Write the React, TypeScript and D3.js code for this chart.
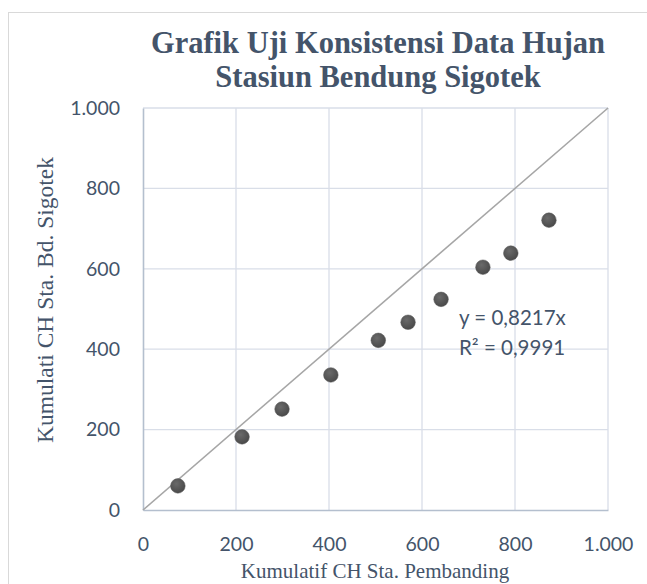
import { useEffect, useRef } from "react";
import * as d3 from "d3";

// ─── Data ────────────────────────────────────────────────────────────────────

const X_PEMBANDING = [75, 213, 299, 404, 506, 570, 641, 731, 791, 873];
const Y_SIGOTEK = [60, 182, 251, 336, 422, 467, 524, 604, 639, 721];
const TICKS = [0, 200, 400, 600, 800, 1000];
const TITLE = ["Grafik Uji Konsistensi Data Hujan", "Stasiun Bendung Sigotek"];
const EQUATION = ["y = 0,8217x", "R² = 0,9991"];

// ─── Palette ─────────────────────────────────────────────────────────────────

const SLATE = "#44546A";
const GRID = "#D9DEE8";
const AXIS = "#B4BFCE";
const DOT = "#595959";
const DIAG = "#A6A6A6";

const SANS = "Lato, 'Open Sans', sans-serif";
const SERIF = "'Times New Roman', 'Liberation Serif', 'DejaVu Serif', serif";

// Indonesian number style: 1.000
const fmt = d3.formatLocale({
  decimal: ",",
  thousands: ".",
  grouping: [3],
  currency: ["", ""],
}).format(",");

export default function App() {
  const svgRef = useRef<SVGSVGElement>(null);

  useEffect(() => {
    if (!svgRef.current) return;
    const W = 647,
      H = 584;
    const m = { left: 143, right: 39, top: 108, bottom: 74 };
    const iw = W - m.left - m.right;
    const ih = H - m.top - m.bottom;

    const svg = d3.select(svgRef.current);
    svg.selectAll("*").remove();

    svg.append("rect").attr("width", W).attr("height", H).attr("fill", "#fff");

    // chart frame
    svg
      .append("rect")
      .attr("x", 8.5)
      .attr("y", 12.5)
      .attr("width", W + 20)
      .attr("height", H + 20)
      .attr("fill", "none")
      .attr("stroke", "#D9D9D9");

    const x = d3.scaleLinear().domain([0, 1000]).range([0, iw]);
    const y = d3.scaleLinear().domain([0, 1000]).range([ih, 0]);

    const g = svg.append("g").attr("transform", `translate(${m.left},${m.top})`);

    // grid
    g.append("g")
      .selectAll("line")
      .data(TICKS.slice(1))
      .join("line")
      .attr("x1", (d) => x(d))
      .attr("x2", (d) => x(d))
      .attr("y1", 0)
      .attr("y2", ih)
      .attr("stroke", GRID)
      .attr("stroke-width", 1.3);
    g.append("g")
      .selectAll("line")
      .data(TICKS.slice(1))
      .join("line")
      .attr("x1", 0)
      .attr("x2", iw)
      .attr("y1", (d) => y(d))
      .attr("y2", (d) => y(d))
      .attr("stroke", GRID)
      .attr("stroke-width", 1.3);

    // axes
    g.append("g")
      .attr("transform", `translate(0,${ih})`)
      .call(d3.axisBottom(x).tickValues(TICKS).tickSize(0).tickFormat((d) => fmt(d as number)))
      .call((ax) => {
        ax.select(".domain").attr("stroke", AXIS).attr("stroke-width", 1.6);
        ax.selectAll(".tick text")
          .attr("fill", SLATE)
          .attr("font-size", 19.5)
          .attr("font-family", SANS)
          .attr("dy", 0)
          .attr("y", 41);
      });
    g.append("g")
      .call(d3.axisLeft(y).tickValues(TICKS).tickSize(0).tickFormat((d) => fmt(d as number)))
      .call((ax) => {
        ax.select(".domain").attr("stroke", AXIS).attr("stroke-width", 1.6);
        ax.selectAll(".tick text")
          .attr("fill", SLATE)
          .attr("font-size", 19.5)
          .attr("font-family", SANS)
          .attr("x", -23);
      });

    // y = x reference line
    g.append("line")
      .attr("x1", x(0))
      .attr("y1", y(0))
      .attr("x2", x(1000))
      .attr("y2", y(1000))
      .attr("stroke", DIAG)
      .attr("stroke-width", 1.6);

    // points
    const defs = svg.append("defs");
    const grad = defs
      .append("radialGradient")
      .attr("id", "dot")
      .attr("cx", "40%")
      .attr("cy", "35%")
      .attr("r", "70%");
    grad.append("stop").attr("offset", "0%").attr("stop-color", "#6a6a6a");
    grad.append("stop").attr("offset", "100%").attr("stop-color", "#474747");

    g.append("g")
      .selectAll("circle")
      .data(X_PEMBANDING.map((v, i) => [v, Y_SIGOTEK[i]]))
      .join("circle")
      .attr("cx", (d) => x(d[0]))
      .attr("cy", (d) => y(d[1]))
      .attr("r", 7.3)
      .attr("fill", "url(#dot)")
      .attr("stroke", DOT)
      .attr("stroke-width", 0.5);

    // trendline label
    svg
      .append("g")
      .selectAll("text")
      .data(EQUATION)
      .join("text")
      .attr("x", 459)
      .attr("y", (_, i) => 325 + i * 30)
      .attr("fill", SLATE)
      .attr("font-size", 20.5)
      .attr("font-family", SANS)
      .text((d) => d);

    // title
    svg
      .append("g")
      .selectAll("text")
      .data(TITLE)
      .join("text")
      .attr("x", 378)
      .attr("y", (_, i) => 53 + i * 34)
      .attr("text-anchor", "middle")
      .attr("fill", SLATE)
      .attr("font-size", 30.5)
      .attr("font-weight", "bold")
      .style("font-family", SERIF)
      .text((d) => d);

    // axis titles
    svg
      .append("text")
      .attr("x", 375)
      .attr("y", 578)
      .attr("text-anchor", "middle")
      .attr("fill", SLATE)
      .attr("font-size", 21)
      .style("font-family", SERIF)
      .text("Kumulatif CH Sta. Pembanding");
    svg
      .append("text")
      .attr("transform", "translate(53,300) rotate(-90)")
      .attr("text-anchor", "middle")
      .attr("fill", SLATE)
      .attr("font-size", 23.5)
      .style("font-family", SERIF)
      .text("Kumulati CH Sta. Bd. Sigotek");
  }, []);

  return (
    <svg
      ref={svgRef}
      width={647}
      height={584}
      viewBox="0 0 647 584"
      style={{ position: "absolute", left: 0, top: 0, display: "block" }}
    />
  );
}
